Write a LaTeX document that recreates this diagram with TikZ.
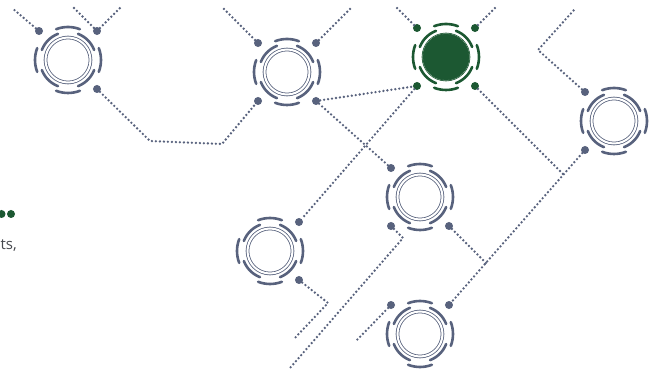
\documentclass[tikz,border=0pt]{standalone}
\usepackage{fontspec}
\setmainfont{Open Sans}
\usetikzlibrary{calc}
\definecolor{slate}{RGB}{88,98,125}
\definecolor{leaf}{RGB}{28,88,50}
\definecolor{ink}{RGB}{70,72,78}

\begin{document}
\begin{tikzpicture}[x=1pt,y=1pt,
  hub/.style={circle,draw=#1,double=white,double distance=2pt,line width=0.8pt,minimum size=45pt,inner sep=0pt},
  hubfill/.style={circle,draw=leaf,fill=leaf,line width=0.8pt,minimum size=46pt,inner sep=0pt},
  ring/.style={draw=#1,line width=2.6pt,line cap=round},
  pin/.style={circle,fill=#1,minimum size=8pt,inner sep=0pt},
  trail/.style={draw=slate,line width=2.6pt,line cap=round,dash pattern=on 0pt off 4pt}]
  \clip (0,0) rectangle (656,374);
  \useasboundingbox (0,0) rectangle (656,374);
  \fill[white] (0,0) rectangle (656,374);
  \foreach \n/\x/\y/\c in {n1/68/314/slate,n2/287/302/slate,n3/446/317/leaf,n4/614/253/slate,
                           n5/420/177/slate,n6/270/123/slate,n7/420/40/slate} {
    \node[hub=\c] (\n) at (\x,\y) {};
    \foreach \a in {0,90,180,270}
      \draw[ring=\c] (\n.center) ++(\a-21:33) arc[start angle=\a-21,delta angle=42,radius=33];
    \foreach \a in {45,135,225,315}
      \draw[ring=\c] (\n.center) ++(\a-24:28) arc[start angle=\a-24,delta angle=48,radius=28];
  }
  \node[hubfill] at (n3) {};
  \foreach \n/\d/\a/\c in {n1/nw/135/slate,n1/ne/45/slate,n1/se/315/slate,
                           n2/nw/135/slate,n2/ne/45/slate,n2/sw/225/slate,n2/se/315/slate,
                           n3/nw/135/leaf,n3/ne/45/leaf,n3/sw/225/leaf,n3/se/315/leaf,
                           n4/nw/135/slate,n4/sw/225/slate,
                           n5/nw/135/slate,n5/sw/225/slate,n5/se/315/slate,
                           n6/ne/45/slate,n6/se/315/slate,
                           n7/nw/135/slate,n7/ne/45/slate}
    \node[pin=\c] (\n\d) at ($(\n)+(\a:41)$) {};
  \coordinate (j1) at (563,200);
  \coordinate (j2) at (486,111);
  \draw[trail] (n1nw) -- (12,366);
  \draw[trail] (74,366) -- (n1ne) -- (120,366);
  \draw[trail] (n1se) -- (150,233) -- (222,230) -- (n2sw);
  \draw[trail] (n2nw) -- (223,366);
  \draw[trail] (n2ne) -- (351,366);
  \draw[trail] (n2se) -- (n3sw);
  \draw[trail] (n2se) -- (n5nw);
  \draw[trail] (n3sw) -- (n6ne);
  \draw[trail] (n3nw) -- (397,366);
  \draw[trail] (n3ne) -- (495,366);
  \draw[trail] (n3se) -- (j1);
  \draw[trail] (n4nw) -- (538,324) -- (574,364);
  \draw[trail] (n4sw) -- (n7ne);
  \draw[trail] (n5se) -- (j2);
  \draw[trail] (n5sw) -- (403,136) -- (290,6);
  \draw[trail] (n6se) -- (328,71) -- (293,34);
  \draw[trail] (n7nw) -- (355,32);
  \node[pin=leaf] (g1) at (1.5,160) {};
  \node[pin=leaf] (g2) at (11,160) {};
  \node[anchor=base west,text=ink,font=\fontsize{15}{18}\selectfont,inner sep=0pt] (txt) at (0.5,124) {ts,};
\end{tikzpicture}
\end{document}
